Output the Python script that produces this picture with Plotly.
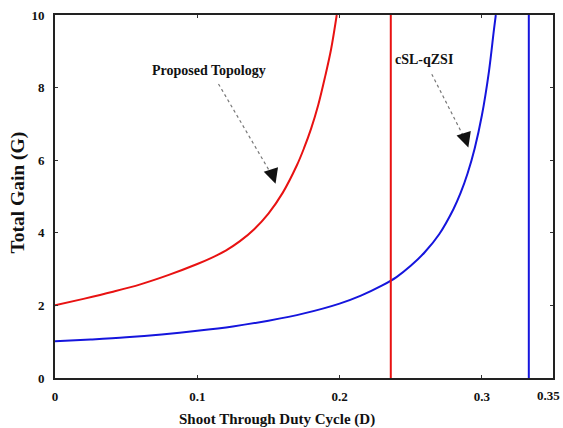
import plotly.graph_objects as go

# ---- data ----
red_D = [0, 0.02, 0.04, 0.06, 0.08, 0.10, 0.11, 0.12, 0.13, 0.14, 0.15, 0.16, 0.17,
         0.175, 0.18, 0.185, 0.19, 0.194, 0.198]
red_G = [2.0, 2.18, 2.37, 2.58, 2.84, 3.14, 3.31, 3.51, 3.77, 4.10, 4.53, 5.10, 5.86,
         6.33, 6.87, 7.52, 8.33, 9.05, 10.0]

blue_D = [0, 0.025, 0.05, 0.075, 0.10, 0.125, 0.15, 0.175, 0.20, 0.215, 0.23, 0.24,
          0.25, 0.26, 0.27, 0.28, 0.285, 0.29, 0.295, 0.30, 0.305, 0.3085, 0.3098]
blue_G = [1.01, 1.06, 1.12, 1.20, 1.30, 1.42, 1.58, 1.78, 2.05, 2.27, 2.55, 2.78,
          3.09, 3.47, 3.96, 4.65, 5.09, 5.64, 6.33, 7.23, 8.45, 9.6, 10.0]

red_limit_D = 0.236
blue_limit_D = 0.333
limit_G = [0, 10]

x_tickvals = [0, 0.1, 0.2, 0.3, 0.35]
x_ticktext = ["0", "0.1", "0.2", "0.3", "0.35"]
y_tickvals = [0, 2, 4, 6, 8, 10]
y_ticktext = ["0", "2", "4", "6", "8", "10"]

RED = "#e81212"
BLUE = "#1515dd"
FONT = "Liberation Serif"
INK = "#111111"

fig = go.Figure()
fig.add_trace(go.Scatter(x=red_D, y=red_G, mode="lines", line=dict(color=RED, width=2, shape="spline", smoothing=1.0),
                         showlegend=False, hoverinfo="skip"))
fig.add_trace(go.Scatter(x=blue_D, y=blue_G, mode="lines", line=dict(color=BLUE, width=2, shape="spline", smoothing=1.0),
                         showlegend=False, hoverinfo="skip"))
fig.add_trace(go.Scatter(x=[red_limit_D, red_limit_D], y=limit_G, mode="lines",
                         line=dict(color=RED, width=2), showlegend=False, hoverinfo="skip"))
fig.add_trace(go.Scatter(x=[blue_limit_D, blue_limit_D], y=limit_G, mode="lines",
                         line=dict(color=BLUE, width=2), showlegend=False, hoverinfo="skip"))

# dashed leader lines
fig.add_shape(type="line", x0=0.1149, y0=8.10, x1=0.1530, y1=5.55,
              line=dict(color="#777777", width=1.2, dash="dot"))
fig.add_shape(type="line", x0=0.2648, y0=8.37, x1=0.2885, y1=6.55,
              line=dict(color="#777777", width=1.2, dash="dot"))

# arrow heads
fig.add_annotation(x=0.155, y=5.35, ax=0.1525, ay=5.65, xref="x", yref="y", axref="x", ayref="y",
                   text="", showarrow=True, arrowhead=2, arrowsize=1.5, arrowwidth=2, arrowcolor=INK)
fig.add_annotation(x=0.2905, y=6.35, ax=0.2880, ay=6.65, xref="x", yref="y", axref="x", ayref="y",
                   text="", showarrow=True, arrowhead=2, arrowsize=1.5, arrowwidth=2, arrowcolor=INK)

fig.add_annotation(x=0.1083, y=8.46, text="<b>Proposed Topology</b>", showarrow=False,
                   font=dict(family=FONT, size=14, color=INK))
fig.add_annotation(x=0.2596, y=8.78, text="<b>cSL-qZSI</b>", showarrow=False,
                   font=dict(family=FONT, size=14, color=INK))

# axis titles
fig.add_annotation(xref="paper", yref="paper", x=0.445, y=-0.115, text="<b>Shoot Through Duty Cycle (D)</b>",
                   showarrow=False, font=dict(family=FONT, size=15, color=INK), yanchor="middle")
fig.add_annotation(xref="paper", yref="paper", x=-0.075, y=0.51, text="<b>Total Gain (G)</b>", textangle=-90,
                   showarrow=False, font=dict(family=FONT, size=19.5, color=INK), xanchor="center")

# last x tick label placed just inside the page edge
fig.add_annotation(xref="x", yref="paper", x=x_tickvals[-1], y=0, yshift=-17, yanchor="middle", xshift=-5,
                   text="<b>" + x_ticktext[-1] + "</b>", showarrow=False,
                   font=dict(family=FONT, size=13, color=INK))

axis_common = dict(showgrid=False, zeroline=False, showline=True, linecolor="#222222", linewidth=2,
                   mirror="ticks", ticks="inside", ticklen=3, tickcolor="#333333", tickwidth=1,
                   tickfont=dict(family=FONT, size=13, color=INK))

fig.update_xaxes(range=[0, 0.35], tickvals=x_tickvals[:-1], ticktext=["<b>" + t + "</b>" for t in x_ticktext[:-1]],
                 ticklabelstandoff=5, **axis_common)
fig.update_yaxes(range=[0, 10], tickvals=y_tickvals, ticktext=["<b>" + t + "</b>" for t in y_ticktext],
                 ticklabelstandoff=6, **axis_common)

fig.update_layout(width=563, height=428, margin=dict(l=55, r=8, t=14, b=50),
                  plot_bgcolor="white", paper_bgcolor="white")

fig.write_html("out.html")
